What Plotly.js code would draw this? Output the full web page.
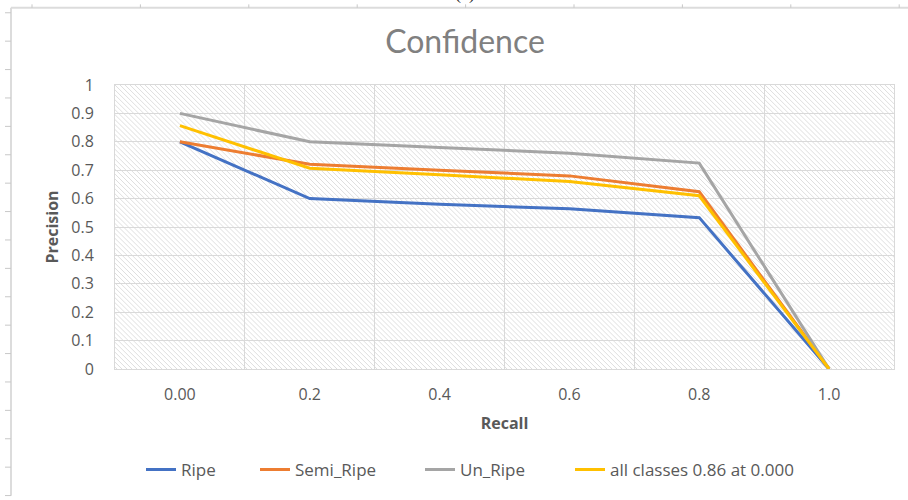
<!DOCTYPE html>
<html>
<head>
<meta charset="utf-8">
<script src="https://cdn.plot.ly/plotly-3.0.1.min.js"></script>
<style>html,body{margin:0;padding:0;background:#fff;}#chart{width:908px;height:500px;}</style>
</head>
<body>
<div id="chart"></div>
<script>
// ---- data ----
const recallLabels = ["0.00", "0.2", "0.4", "0.6", "0.8", "1.0"];
const ripe = [0.80, 0.60, 0.58, 0.564, 0.533, 0.0];
const semiRipe = [0.80, 0.721, 0.70, 0.68, 0.624, 0.0];
const unRipe = [0.90, 0.80, 0.78, 0.76, 0.725, 0.0];
const allClasses = [0.857, 0.707, 0.684, 0.66, 0.61, 0.0];
const seriesNames = ["Ripe", "Semi_Ripe", "Un_Ripe", "all classes 0.86 at 0.000"];
const seriesColors = ["#4472C4", "#ED7D31", "#A5A5A5", "#FFC000"];

// ---- layout geometry ----
const W = 908, H = 500, ML = 115, MR = 14, MT = 85, MB = 128;
const PW = W - ML - MR, PH = H - MT - MB;
const px = v => (v - ML) / PW;
const py = v => (H - MB - v) / PH;

const legendIds = ['legend', 'legend2', 'legend3', 'legend4'];
const legendTextX = [181, 295, 460, 610];

const series = [ripe, semiRipe, unRipe, allClasses];
const traces = series.map((ys, i) => ({
  type: 'scatter', mode: 'lines', x: recallLabels, y: ys, name: seriesNames[i],
  legend: legendIds[i],
  line: {color: seriesColors[i], width: 3}, hoverinfo: 'x+y+name'
}));

// hatched plot background
const svg = `<svg xmlns='http://www.w3.org/2000/svg' width='${PW}' height='${PH}'><defs><pattern id='p' width='5' height='5' patternUnits='userSpaceOnUse'><path d='M-1,-1 L6,6 M-1,4 L1,6 M4,-1 L6,1' stroke='#dedede' stroke-width='1'/></pattern></defs><rect width='100%' height='100%' fill='white'/><rect width='100%' height='100%' fill='url(#p)'/></svg>`;
const bgSrc = 'data:image/svg+xml;charset=utf-8,' + encodeURIComponent(svg);

// decorative frame (document border with ruler ticks)
const frameColor = '#dcdcdc';
const shapes = [
  {type: 'line', xref: 'paper', yref: 'paper', x0: px(11), x1: px(908), y0: py(7), y1: py(7), line: {color: frameColor, width: 2}},
  {type: 'line', xref: 'paper', yref: 'paper', x0: px(11), x1: px(11), y0: py(7), y1: py(500), line: {color: frameColor, width: 2}}
];
for (let k = 0; k < 9; k++) {
  const xx = 32 + 108.4 * k;
  shapes.push({type: 'line', xref: 'paper', yref: 'paper', x0: px(xx), x1: px(xx), y0: py(3.5), y1: py(7), line: {color: '#c8c8c8', width: 1}});
}
for (let k = 0; k < 18; k++) {
  const yy = 12 + 28.7 * k;
  shapes.push({type: 'line', xref: 'paper', yref: 'paper', x0: px(5), x1: px(11), y0: py(yy), y1: py(yy), line: {color: '#c8c8c8', width: 1}});
}

const txtColor = '#595959';
const font = '"Open Sans", Lato, sans-serif';

const layout = {
  width: W, height: H,
  margin: {l: ML, r: MR, t: MT, b: MB, pad: 0},
  paper_bgcolor: '#ffffff',
  plot_bgcolor: 'rgba(0,0,0,0)',
  showlegend: true,
  title: {text: 'Confidence', font: {family: 'Lato, sans-serif', size: 32, color: '#808080'},
          xref: 'container', x: 465 / W, xanchor: 'center', yref: 'container', y: 1 - 42 / H, yanchor: 'middle'},
  xaxis: {
    type: 'category', range: [-0.5, 5.5], tickson: 'boundaries',
    showgrid: true, gridcolor: '#d9d9d9', gridwidth: 1,
    showline: true, linecolor: '#d9d9d9', linewidth: 1, mirror: true,
    ticks: '', ticklabelstandoff: 11,
    tickfont: {family: font, size: 16, color: txtColor},
    title: {text: '<b>Recall</b>', font: {family: font, size: 16, color: txtColor}, standoff: 13},
    fixedrange: true
  },
  yaxis: {
    range: [0, 1], dtick: 0.1, tick0: 0,
    showgrid: true, gridcolor: '#d9d9d9', gridwidth: 1, zeroline: false,
    showline: true, linecolor: '#d9d9d9', linewidth: 1, mirror: true,
    ticks: '', ticklabelstandoff: 17,
    tickfont: {family: font, size: 16, color: txtColor},
    title: {text: '<b>Precision</b>', font: {family: font, size: 16, color: txtColor}, standoff: 8},
    fixedrange: true
  },
  images: [{source: bgSrc, xref: 'paper', yref: 'paper', x: 0, y: 1, sizex: 1, sizey: 1,
            xanchor: 'left', yanchor: 'top', sizing: 'stretch', layer: 'below'}],
  shapes: shapes,
  annotations: [{text: '(c)', xref: 'paper', yref: 'paper', x: px(465), y: py(5), xanchor: 'center', yanchor: 'bottom',
                 showarrow: false, font: {family: '"Liberation Serif", serif', size: 18, color: '#222'}}]
};

legendIds.forEach((id, i) => {
  layout[id] = {orientation: 'h', x: px(legendTextX[i] - 40), xanchor: 'left', y: py(474), yanchor: 'middle',
                font: {family: font, size: 17, color: txtColor}, bgcolor: 'rgba(0,0,0,0)', borderwidth: 0};
});

Plotly.newPlot('chart', traces, layout, {displayModeBar: false, staticPlot: true});
</script>
</body>
</html>
